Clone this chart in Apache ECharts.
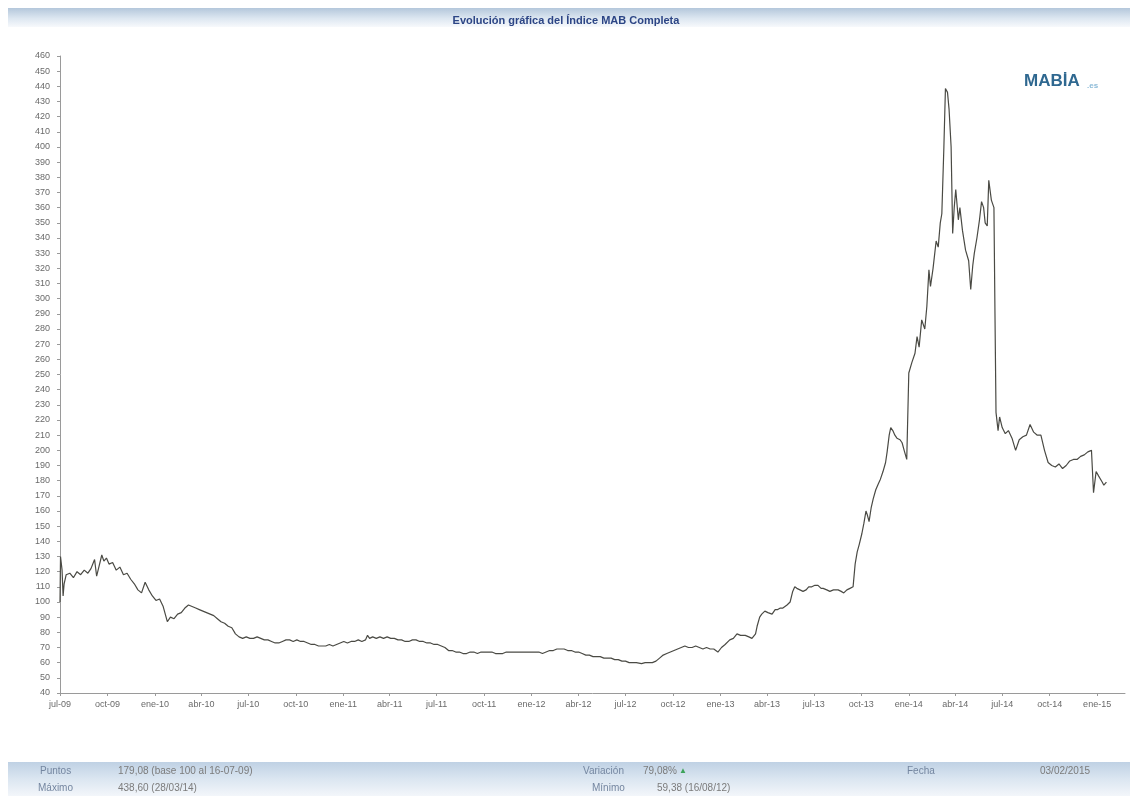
<!DOCTYPE html>
<html>
<head>
<meta charset="utf-8">
<script src="https://cdn.jsdelivr.net/npm/echarts@6/dist/echarts.min.js"></script>
<style>
  html, body { margin: 0; padding: 0; background: #ffffff; }
  #chart { width: 1132px; height: 796px; }
</style>
</head>
<body>
<div id="chart"></div>
<script>
// Índice MAB Completa, base 100 al 16-07-09: [fecha, puntos]
const serie2009 = [
  ['2009-07-16',100],['2009-07-17',130],['2009-07-20',121],['2009-07-22',104],['2009-07-24',112],
  ['2009-07-28',118],['2009-08-04',119],['2009-08-11',116],['2009-08-18',120],['2009-08-25',118],
  ['2009-09-01',121],['2009-09-08',119],['2009-09-14',122],['2009-09-21',128],['2009-09-25',117],
  ['2009-09-30',124],['2009-10-05',131],['2009-10-09',127],['2009-10-14',129],['2009-10-19',125],
  ['2009-10-26',126],['2009-11-02',121],['2009-11-09',123],['2009-11-16',118],['2009-11-23',119],
  ['2009-11-30',115],['2009-12-07',112],['2009-12-14',108],['2009-12-21',106],['2009-12-28',113]
];
const serie2010 = [
  ['2010-01-04',108],['2010-01-11',104],['2010-01-18',101],['2010-01-25',102],['2010-02-01',97],
  ['2010-02-05',92],['2010-02-09',87],['2010-02-15',90],['2010-02-22',89],['2010-03-01',92],
  ['2010-03-08',93],['2010-03-15',96],['2010-03-22',98],['2010-03-29',97],['2010-04-05',96],
  ['2010-04-12',95],['2010-04-19',94],['2010-04-26',93],['2010-05-03',92],['2010-05-10',91],
  ['2010-05-17',89],['2010-05-24',87],['2010-05-31',86],['2010-06-07',84],['2010-06-14',83],
  ['2010-06-21',79],['2010-06-28',77],['2010-07-05',76],['2010-07-12',77],['2010-07-19',76],
  ['2010-07-26',76],['2010-08-02',77],['2010-08-09',76],['2010-08-16',75],['2010-08-23',75],
  ['2010-08-30',74],['2010-09-06',73],['2010-09-13',73],['2010-09-20',74],['2010-09-27',75],
  ['2010-10-04',75],['2010-10-11',74],['2010-10-18',75],['2010-10-25',74],['2010-11-01',74],
  ['2010-11-08',73],['2010-11-15',72],['2010-11-22',72],['2010-11-29',71],['2010-12-06',71],
  ['2010-12-13',71],['2010-12-20',72],['2010-12-27',71]
];
const serie2011 = [
  ['2011-01-03',72],['2011-01-10',73],['2011-01-17',74],['2011-01-24',73],['2011-01-31',74],
  ['2011-02-07',74],['2011-02-14',75],['2011-02-21',74],['2011-02-28',75],['2011-03-04',78],
  ['2011-03-08',76],['2011-03-14',77],['2011-03-21',76],['2011-03-28',77],['2011-04-04',76],
  ['2011-04-11',77],['2011-04-18',76],['2011-04-25',76],['2011-05-02',75],['2011-05-09',75],
  ['2011-05-16',74],['2011-05-23',74],['2011-05-30',75],['2011-06-06',75],['2011-06-13',74],
  ['2011-06-20',74],['2011-06-27',73],['2011-07-04',73],['2011-07-11',72],['2011-07-18',72],
  ['2011-07-25',71],['2011-08-01',70],['2011-08-08',68],['2011-08-15',68],['2011-08-22',67],
  ['2011-08-29',67],['2011-09-05',66],['2011-09-12',66],['2011-09-19',67],['2011-09-26',67],
  ['2011-10-03',66],['2011-10-10',67],['2011-10-17',67],['2011-10-24',67],['2011-10-31',67],
  ['2011-11-07',66],['2011-11-14',66],['2011-11-21',66],['2011-11-28',67],['2011-12-05',67],
  ['2011-12-12',67],['2011-12-19',67],['2011-12-26',67]
];
const serie2012 = [
  ['2012-01-02',67],['2012-01-09',67],['2012-01-16',67],['2012-01-23',67],['2012-01-30',67],
  ['2012-02-06',66],['2012-02-13',67],['2012-02-20',68],['2012-02-27',68],['2012-03-05',69],
  ['2012-03-12',69],['2012-03-19',69],['2012-03-26',68],['2012-04-02',68],['2012-04-09',67],
  ['2012-04-16',67],['2012-04-23',66],['2012-04-30',65],['2012-05-07',65],['2012-05-14',64],
  ['2012-05-21',64],['2012-05-28',64],['2012-06-04',63],['2012-06-11',63],['2012-06-18',63],
  ['2012-06-25',62],['2012-07-02',62],['2012-07-09',61],['2012-07-16',61],['2012-07-23',60],
  ['2012-07-30',60],['2012-08-06',60],['2012-08-16',59.38],['2012-08-23',60],['2012-08-30',60],
  ['2012-09-06',60],['2012-09-13',61],['2012-09-20',63],['2012-09-27',65],['2012-10-04',66],
  ['2012-10-11',67],['2012-10-18',68],['2012-10-25',69],['2012-11-01',70],['2012-11-08',71],
  ['2012-11-15',70],['2012-11-22',70],['2012-11-29',71],['2012-12-06',70],['2012-12-13',69],
  ['2012-12-20',70],['2012-12-27',69]
];
const serie2013 = [
  ['2013-01-03',69],['2013-01-11',67],['2013-01-18',70],['2013-01-25',72],['2013-02-03',75],
  ['2013-02-10',76],['2013-02-17',79],['2013-02-24',78],['2013-03-05',78],['2013-03-12',77],
  ['2013-03-18',76],['2013-03-25',79],['2013-03-28',84],['2013-04-02',90],['2013-04-06',92],
  ['2013-04-12',94],['2013-04-18',93],['2013-04-26',92],['2013-05-02',95],['2013-05-07',95],
  ['2013-05-12',96],['2013-05-17',96],['2013-05-25',98],['2013-05-31',100],['2013-06-05',107],
  ['2013-06-09',110],['2013-06-13',109],['2013-06-19',108],['2013-06-25',107],['2013-07-01',108],
  ['2013-07-06',110],['2013-07-12',110],['2013-07-18',111],['2013-07-24',111],['2013-07-30',109],
  ['2013-08-03',109],['2013-08-10',108],['2013-08-16',107],['2013-08-23',108],['2013-09-01',108],
  ['2013-09-07',107],['2013-09-12',106],['2013-09-18',108],['2013-09-24',109],['2013-09-30',110],
  ['2013-10-04',125],['2013-10-08',133],['2013-10-12',138],['2013-10-17',145],['2013-10-21',152],
  ['2013-10-25',160],['2013-10-28',157],['2013-10-31',153],['2013-11-04',162],['2013-11-08',168],
  ['2013-11-13',174],['2013-11-18',178],['2013-11-22',181],['2013-11-27',186],['2013-12-02',192],
  ['2013-12-05',199],['2013-12-09',210],['2013-12-12',215],['2013-12-16',213],['2013-12-20',210],
  ['2013-12-24',208],['2013-12-30',207]
];
const serie2014 = [
  ['2014-01-03',205],['2014-01-07',200],['2014-01-12',194],['2014-01-16',251],['2014-01-22',258],
  ['2014-01-28',264],['2014-02-01',275],['2014-02-05',268],['2014-02-10',286],['2014-02-16',280],
  ['2014-02-20',295],['2014-02-24',319],['2014-02-27',308],['2014-03-04',320],['2014-03-10',338],
  ['2014-03-14',334],['2014-03-18',350],['2014-03-21',356],['2014-03-25',400],['2014-03-28',438.6],
  ['2014-04-01',436],['2014-04-04',425],['2014-04-08',400],['2014-04-11',343],['2014-04-14',360],
  ['2014-04-17',372],['2014-04-22',352],['2014-04-25',360],['2014-04-30',345],['2014-05-06',332],
  ['2014-05-12',325],['2014-05-16',306],['2014-05-20',322],['2014-05-23',330],['2014-05-28',340],
  ['2014-06-02',352],['2014-06-06',364],['2014-06-10',360],['2014-06-13',350],['2014-06-17',348],
  ['2014-06-20',378],['2014-06-25',365],['2014-06-30',360],['2014-07-02',290],['2014-07-04',225],
  ['2014-07-08',213],['2014-07-11',222],['2014-07-16',215],['2014-07-22',211],['2014-07-28',213],
  ['2014-08-04',208],['2014-08-11',200],['2014-08-18',207],['2014-08-25',209],['2014-09-01',210],
  ['2014-09-08',217],['2014-09-15',212],['2014-09-22',210],['2014-09-29',210],['2014-10-06',200],
  ['2014-10-13',192],['2014-10-20',190],['2014-10-27',189],['2014-11-03',191],['2014-11-10',188],
  ['2014-11-17',190],['2014-11-24',193],['2014-12-01',194],['2014-12-08',194],['2014-12-15',196],
  ['2014-12-22',197],['2014-12-29',199]
];
const serie2015 = [
  ['2015-01-05',200],['2015-01-09',172],['2015-01-14',186],['2015-01-19',183],['2015-01-26',179],
  ['2015-01-29',177],['2015-02-03',179.08]
];

// Eje X: marcas trimestrales
const fechasEtiquetas = [
  '2009-07-16','2009-10-16','2010-01-16','2010-04-16','2010-07-16','2010-10-16',
  '2011-01-16','2011-04-16','2011-07-16','2011-10-16','2012-01-16','2012-04-16',
  '2012-07-16','2012-10-16','2013-01-16','2013-04-16','2013-07-16','2013-10-16',
  '2014-01-16','2014-04-16','2014-07-16','2014-10-16','2015-01-16'
];
const etiquetasX = [
  'jul-09','oct-09','ene-10','abr-10','jul-10','oct-10',
  'ene-11','abr-11','jul-11','oct-11','ene-12','abr-12',
  'jul-12','oct-12','ene-13','abr-13','jul-13','oct-13',
  'ene-14','abr-14','jul-14','oct-14','ene-15'
];

// Resumen del pie
const resumen = {
  puntos: '179,08 (base 100 al 16-07-09)',
  maximo: '438,60 (28/03/14)',
  variacion: '79,08%',
  minimo: '59,38 (16/08/12)',
  fecha: '03/02/2015'
};

// fechas como días transcurridos desde el inicio (16-07-09)
const DIA = 86400000;
const origen = Date.UTC(2009, 6, 16);
function aDia(s) {
  const p = s.split('-').map(Number);
  return Math.round((Date.UTC(p[0], p[1] - 1, p[2]) - origen) / DIA);
}

const datos = [].concat(serie2009, serie2010, serie2011, serie2012, serie2013, serie2014, serie2015)
  .map(d => [aDia(d[0]), d[1]]);
const marcas = fechasEtiquetas.map(aDia);
const textoMarca = {};
marcas.forEach((t, i) => { textoMarca[t] = etiquetasX[i]; });

const fuente = 'Liberation Sans';
const chart = echarts.init(document.getElementById('chart'), null, { renderer: 'canvas' });

const bandaSup = new echarts.graphic.LinearGradient(0, 0, 0, 1, [
  { offset: 0, color: '#b4c7db' },
  { offset: 0.55, color: '#dde7f1' },
  { offset: 1, color: '#f7f9fc' }
]);
const bandaInf = new echarts.graphic.LinearGradient(0, 0, 0, 1, [
  { offset: 0, color: '#bfd1e4' },
  { offset: 0.5, color: '#dbe6f1' },
  { offset: 1, color: '#f3f6fa' }
]);

const txtEtiqueta = { fill: '#7486a0', font: '10px ' + fuente };
const txtValor = { fill: '#7b7b7b', font: '10px ' + fuente };

chart.setOption({
  animation: false,
  backgroundColor: '#ffffff',
  title: {
    text: 'Evolución gráfica del Índice MAB Completa',
    left: 'center',
    top: 10,
    textStyle: { fontFamily: fuente, fontSize: 11, fontWeight: 'bold', color: '#2c4585' }
  },
  grid: { left: 60, right: 7, top: 56, bottom: 103, containLabel: false },
  xAxis: {
    type: 'value',
    min: 0,
    max: aDia('2015-03-11'),
    axisLine: { show: true, onZero: false, lineStyle: { color: '#9a9a9a', width: 1 } },
    axisTick: { show: true, customValues: marcas, length: 3, lineStyle: { color: '#9a9a9a' } },
    axisLabel: {
      customValues: marcas,
      formatter: v => textoMarca[v] || '',
      fontFamily: fuente, fontSize: 9, color: '#6a6a6a', margin: 7,
      showMinLabel: true, showMaxLabel: true, hideOverlap: false
    },
    splitLine: { show: false }
  },
  yAxis: {
    type: 'value',
    min: 40, max: 460, interval: 10,
    axisLine: { show: true, lineStyle: { color: '#9a9a9a', width: 1 } },
    axisTick: { show: true, length: 3, lineStyle: { color: '#9a9a9a' } },
    axisLabel: { fontFamily: fuente, fontSize: 9, color: '#6a6a6a', margin: 10 },
    splitLine: { show: false }
  },
  series: [{
    type: 'line',
    data: datos,
    showSymbol: false,
    symbol: 'none',
    lineStyle: { color: '#4a4a44', width: 1.2 },
    z: 3
  }],
  graphic: [
    { type: 'rect', left: 8, top: 8, shape: { width: 1122, height: 19 }, style: { fill: bandaSup }, z: -1 },
    { type: 'rect', left: 8, top: 762, shape: { width: 1122, height: 34 }, style: { fill: bandaInf }, z: -1 },
    // logotipo
    { type: 'text', left: 1024, top: 73, style: { text: 'MABİA', fill: '#2f6890', font: 'bold 17px ' + fuente } },
    { type: 'text', left: 1087, top: 82, style: { text: '.es', fill: '#8bbad8', font: 'bold 8px ' + fuente } },
    // pie
    { type: 'text', left: 40, top: 766, style: Object.assign({ text: 'Puntos' }, txtEtiqueta) },
    { type: 'text', left: 118, top: 766, style: Object.assign({ text: resumen.puntos }, txtValor) },
    { type: 'text', left: 38, top: 783, style: Object.assign({ text: 'Máximo' }, txtEtiqueta) },
    { type: 'text', left: 118, top: 783, style: Object.assign({ text: resumen.maximo }, txtValor) },
    { type: 'text', left: 583, top: 766, style: Object.assign({ text: 'Variación' }, txtEtiqueta) },
    { type: 'text', left: 643, top: 766, style: Object.assign({ text: resumen.variacion }, txtValor) },
    { type: 'text', left: 679, top: 767, style: { text: '▲', fill: '#3da35a', font: '8px ' + fuente } },
    { type: 'text', left: 592, top: 783, style: Object.assign({ text: 'Mínimo' }, txtEtiqueta) },
    { type: 'text', left: 657, top: 783, style: Object.assign({ text: resumen.minimo }, txtValor) },
    { type: 'text', left: 907, top: 766, style: Object.assign({ text: 'Fecha' }, txtEtiqueta) },
    { type: 'text', left: 1040, top: 766, style: Object.assign({ text: resumen.fecha }, txtValor) }
  ]
});
</script>
</body>
</html>
